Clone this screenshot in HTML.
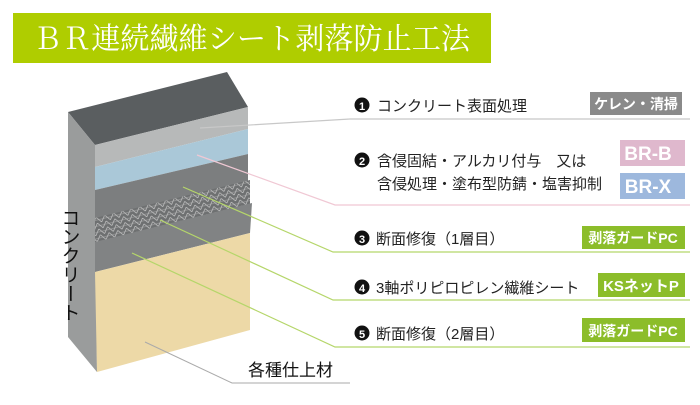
<!DOCTYPE html>
<html><head><meta charset="utf-8"><style>
body{margin:0;width:700px;height:400px;background:#fff;overflow:hidden;font-family:"Liberation Sans","Noto Sans CJK JP",sans-serif}
</style></head><body>
<svg width="700" height="400" viewBox="0 0 700 400" xmlns="http://www.w3.org/2000/svg">
<defs>
<pattern id="mesh" width="9" height="6" patternUnits="userSpaceOnUse" patternTransform="rotate(-14)">
<path d="M0 6 L4.5 0 L9 6" fill="none" stroke="#d8d8d8" stroke-width="0.6"/>
<line x1="0" y1="3" x2="9" y2="3" stroke="#bbb" stroke-width="0.4"/>
</pattern>
<clipPath id="mc"><polygon points="95,218 250,180 250,205 95,243"/></clipPath>
</defs>
<rect x="13" y="13" width="478" height="50" fill="#afcd00"/>
<text x="33" y="49" fill="#fff" font-size="30" textLength="437" lengthAdjust="spacingAndGlyphs" font-family="'Liberation Serif','Noto Serif CJK SC',serif">ＢＲ連続繊維シート剥落防止工法</text>
<!-- block -->
<polygon points="68,112 227,72 248,107 95,145" fill="#5a5e60"/>
<polygon points="68,112 95,145 97,372 68,337" fill="#9a9c9c"/>
<polygon points="95,145 248,107 248,129 95,167" fill="#b7b9b9"/>
<polygon points="95,167 248,129 248,154 95,190" fill="#aac8d8"/>
<polygon points="95,190 248,154 248,182 250,205 95,245" fill="#7c7e7f"/>
<polygon points="95,218 250,180 250,205 95,243" fill="#6e7071"/>
<rect x="90" y="170" width="170" height="80" fill="url(#mesh)" clip-path="url(#mc)"/>
<polygon points="95,242 252,203 250,233 95,272" fill="#818384"/>
<polygon points="95,272 250,233 250,330 97,372" fill="#edd9a7"/>
<text x="69" y="208" font-size="19" fill="#111" style="writing-mode:vertical-rl">コンクリート</text>
<!-- leaders -->
<polyline points="200,128 350,119 690,119" fill="none" stroke="#c8c8c8" stroke-width="1.2"/>
<polyline points="197,155 335,205 690,205" fill="none" stroke="#f0c8d4" stroke-width="1.2"/>
<polyline points="183,187 333,252 690,252" fill="none" stroke="#b5d66a" stroke-width="1.2"/>
<polyline points="160,220 333,300 690,300" fill="none" stroke="#b5d66a" stroke-width="1.2"/>
<polyline points="132,253 335,347 690,347" fill="none" stroke="#b5d66a" stroke-width="1.2"/>
<polyline points="145,342 232,383 350,383" fill="none" stroke="#aaa" stroke-width="1"/>
<text x="248" y="376" font-size="17" fill="#111">各種仕上材</text>
<!-- labels -->
<g font-size="15" fill="#222">
<circle cx="362" cy="105" r="7.5" fill="#111"/><text x="362" y="110" fill="#fff" font-size="11" font-weight="bold" text-anchor="middle">1</text>
<text x="377" y="111">コンクリート表面処理</text>
<circle cx="362" cy="160" r="7.5" fill="#111"/><text x="362" y="165" fill="#fff" font-size="11" font-weight="bold" text-anchor="middle">2</text>
<text x="377" y="166">含侵固結・アルカリ付与　又は</text>
<text x="377" y="189">含侵処理・塗布型防錆・塩害抑制</text>
<circle cx="362" cy="238" r="7.5" fill="#111"/><text x="362" y="243" fill="#fff" font-size="11" font-weight="bold" text-anchor="middle">3</text>
<text x="376" y="244">断面修復（1層目）</text>
<circle cx="362" cy="287" r="7.5" fill="#111"/><text x="362" y="292" fill="#fff" font-size="11" font-weight="bold" text-anchor="middle">4</text>
<text x="376" y="293">3軸ポリピロピレン繊維シート</text>
<circle cx="362" cy="333" r="7.5" fill="#111"/><text x="362" y="338" fill="#fff" font-size="11" font-weight="bold" text-anchor="middle">5</text>
<text x="376" y="339">断面修復（2層目）</text>
</g>
<g font-weight="bold" fill="#fff" text-anchor="middle">
<rect x="590" y="92" width="92" height="23" fill="#8a8a8a"/><text x="636" y="109" font-size="14">ケレン・清掃</text>
<rect x="620" y="140" width="65" height="26" fill="#dfb8cd"/><text x="648" y="160" font-size="19">BR-B</text>
<rect x="620" y="173" width="65" height="26" fill="#9db8dd"/><text x="648" y="193" font-size="19">BR-X</text>
<rect x="582" y="226" width="103" height="23" fill="#8cbd2a"/><text x="633" y="243" font-size="14">剥落ガードPC</text>
<rect x="598" y="273" width="87" height="24" fill="#8cbd2a"/><text x="641" y="291" font-size="15">KSネットP</text>
<rect x="582" y="318" width="103" height="24" fill="#8cbd2a"/><text x="633" y="336" font-size="14">剥落ガードPC</text>
</g>
</svg>
</body></html>
